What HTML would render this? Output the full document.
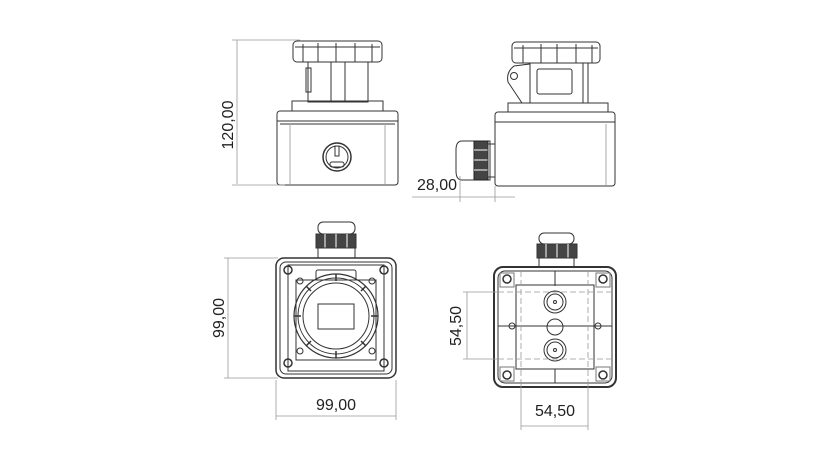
<!DOCTYPE html>
<html><head><meta charset="utf-8"><style>
html,body{margin:0;padding:0;background:#fff;}
svg{display:block}
text{font-family:"Liberation Sans",sans-serif;font-size:16px;fill:#222}
</style></head><body>
<svg width="825" height="464" viewBox="0 0 825 464" xmlns="http://www.w3.org/2000/svg">
<g fill="none" stroke="#333" stroke-width="1">
<!-- VIEW 1 front -->
<rect x="293" y="41" width="89" height="21" rx="4"/>
<line x1="295" y1="47" x2="380" y2="47"/>
<line x1="303" y1="44" x2="303" y2="62"/><line x1="318" y1="43" x2="318" y2="62"/><line x1="336" y1="43" x2="336" y2="62"/><line x1="355" y1="43" x2="355" y2="62"/><line x1="372" y1="44" x2="372" y2="62"/>
<rect x="308" y="62" width="60" height="40"/>
<line x1="331" y1="62" x2="331" y2="102"/><line x1="345" y1="62" x2="345" y2="102"/>
<rect x="306" y="68" width="5" height="24"/>
<rect x="292" y="101" width="91" height="10"/>
<rect x="277" y="111" width="121" height="74" rx="3"/>
<line x1="277" y1="121" x2="398" y2="121"/>
<line x1="280" y1="124" x2="395" y2="124"/>
<line x1="290" y1="124" x2="290" y2="184" stroke="#aaa"/>
<line x1="385" y1="124" x2="385" y2="184" stroke="#aaa"/>
<circle cx="337" cy="157" r="14" stroke-width="1.5"/>
<circle cx="337" cy="157" r="11"/>
<rect x="335" y="146" width="4" height="10"/>
<rect x="330" y="162" width="14" height="5" rx="2"/>
<g stroke="#999" stroke-width="0.8">
<line x1="237" y1="40" x2="237" y2="184"/>
<line x1="232" y1="40" x2="300" y2="40"/>
<line x1="232" y1="185" x2="285" y2="185"/>
</g>
<!-- VIEW 2 side -->
<rect x="512" y="42" width="88" height="21" rx="4"/>
<line x1="514" y1="48" x2="598" y2="48"/>
<line x1="523" y1="45" x2="523" y2="63"/><line x1="541" y1="44" x2="541" y2="63"/><line x1="557" y1="44" x2="557" y2="63"/><line x1="576" y1="44" x2="576" y2="63"/><line x1="592" y1="45" x2="592" y2="63"/>
<rect x="530" y="63" width="58" height="40"/>
<line x1="583" y1="63" x2="583" y2="103"/>
<rect x="537" y="69" width="35" height="25" rx="2"/>
<path d="M514 66 L530 64 L530 103 L522 103 L508 82 Q506 72 514 66Z"/>
<circle cx="514" cy="76" r="3.5"/>
<rect x="508" y="103" width="100" height="9"/>
<rect x="495" y="112" width="120" height="74" rx="3"/>
<line x1="495" y1="122" x2="615" y2="122"/>
<line x1="606" y1="124" x2="606" y2="185" stroke="#aaa"/>
<path d="M490 141 L462 141 Q456 141 456 150 L456 171 Q456 180 462 180 L490 180Z"/>
<rect x="474" y="141" width="14" height="39" fill="#444" stroke="#222"/>
<line x1="474" y1="150" x2="488" y2="150" stroke="#fff"/><line x1="474" y1="160" x2="488" y2="160" stroke="#fff"/><line x1="474" y1="170" x2="488" y2="170" stroke="#fff"/>
<rect x="488" y="144" width="7" height="33"/>
<g stroke="#999" stroke-width="0.8">
<line x1="412" y1="197" x2="515" y2="197"/>
<line x1="460" y1="176" x2="460" y2="202"/>
<line x1="495" y1="186" x2="495" y2="202"/>
</g>
<!-- VIEW 3 front face -->
<rect x="318" y="222" width="37" height="12" rx="5"/>
<rect x="316" y="234" width="40" height="14" fill="#444"/>
<line x1="325" y1="234" x2="325" y2="248" stroke="#fff"/><line x1="336" y1="234" x2="336" y2="248" stroke="#fff"/><line x1="347" y1="234" x2="347" y2="248" stroke="#fff"/>
<rect x="318" y="248" width="37" height="10"/>
<rect x="276" y="258" width="120" height="120" rx="8" stroke-width="1.5"/>
<rect x="280" y="262" width="112" height="112" rx="6"/>
<rect x="288" y="265" width="96" height="106"/>
<rect x="296" y="280" width="80" height="80"/>
<rect x="316" y="270" width="40" height="10" rx="2"/>
<circle cx="336" cy="316" r="42" stroke-width="1.2"/>
<circle cx="336" cy="316" r="38"/>
<circle cx="336" cy="316" r="33"/>
<g stroke-width="1.5">
<line x1="336" y1="274" x2="336" y2="281"/><line x1="336" y1="351" x2="336" y2="358"/>
<line x1="294" y1="316" x2="301" y2="316"/><line x1="371" y1="316" x2="378" y2="316"/>
<line x1="306" y1="286" x2="311" y2="291"/><line x1="366" y1="286" x2="361" y2="291"/>
<line x1="306" y1="346" x2="311" y2="341"/><line x1="366" y1="346" x2="361" y2="341"/>
</g>
<rect x="318" y="304" width="36" height="25"/>
<circle cx="288" cy="270" r="4" stroke-width="1.5"/><circle cx="384" cy="270" r="4" stroke-width="1.5"/>
<circle cx="288" cy="363" r="4" stroke-width="1.5"/><circle cx="384" cy="363" r="4" stroke-width="1.5"/>
<circle cx="300" cy="281" r="3"/><circle cx="372" cy="281" r="3"/><circle cx="300" cy="351" r="3"/><circle cx="372" cy="351" r="3"/>
<g stroke="#999" stroke-width="0.8">
<line x1="228" y1="258" x2="228" y2="378"/>
<line x1="224" y1="258" x2="278" y2="258"/>
<line x1="224" y1="378" x2="278" y2="378"/>
<line x1="276" y1="380" x2="276" y2="420"/>
<line x1="396" y1="380" x2="396" y2="420"/>
<line x1="276" y1="416" x2="396" y2="416"/>
</g>
<!-- VIEW 4 back -->
<rect x="539" y="233" width="35" height="11" rx="5"/>
<rect x="537" y="244" width="40" height="14" fill="#444"/>
<line x1="546" y1="244" x2="546" y2="258" stroke="#fff"/><line x1="557" y1="244" x2="557" y2="258" stroke="#fff"/><line x1="568" y1="244" x2="568" y2="258" stroke="#fff"/>
<rect x="539" y="258" width="35" height="9"/>
<rect x="494" y="267" width="122" height="120" rx="9" stroke-width="2"/>
<rect x="498" y="271" width="114" height="112" rx="7"/>
<path d="M500 273 h14 v14 h-14z M596 273 h14 v14 h-14z M500 367 h14 v14 h-14z M596 367 h14 v14 h-14z" stroke="#777"/>
<rect x="516" y="285" width="78" height="84"/>
<line x1="498" y1="326" x2="612" y2="326"/>
<line x1="555" y1="271" x2="555" y2="286"/><line x1="555" y1="369" x2="555" y2="383"/>
<circle cx="555" cy="302" r="11"/><circle cx="555" cy="302" r="8"/><circle cx="555" cy="302" r="1.5"/>
<circle cx="555" cy="327" r="8"/>
<circle cx="555" cy="350" r="11"/><circle cx="555" cy="350" r="8"/><circle cx="555" cy="350" r="1.5"/>
<circle cx="512" cy="326" r="3"/><circle cx="598" cy="326" r="3"/>
<circle cx="507" cy="279" r="4" stroke-width="1.5"/><circle cx="603" cy="279" r="4" stroke-width="1.5"/>
<circle cx="507" cy="375" r="4" stroke-width="1.5"/><circle cx="603" cy="375" r="4" stroke-width="1.5"/>
<g stroke="#999" stroke-width="0.8" stroke-dasharray="6,3">
<line x1="521" y1="271" x2="521" y2="383"/><line x1="588" y1="271" x2="588" y2="383"/>
<line x1="498" y1="292" x2="612" y2="292"/><line x1="498" y1="359" x2="612" y2="359"/>
</g>
<g stroke="#999" stroke-width="0.8">
<line x1="467" y1="292" x2="467" y2="359"/>
<line x1="463" y1="292" x2="498" y2="292"/>
<line x1="463" y1="359" x2="498" y2="359"/>
<line x1="521" y1="383" x2="521" y2="430"/>
<line x1="588" y1="383" x2="588" y2="430"/>
<line x1="521" y1="426" x2="588" y2="426"/>
</g>
</g>
<text transform="translate(233,125) rotate(-90)" text-anchor="middle">120,00</text>
<text x="417" y="190">28,00</text>
<text transform="translate(224,318) rotate(-90)" text-anchor="middle">99,00</text>
<text x="336" y="410" text-anchor="middle">99,00</text>
<text transform="translate(461,326) rotate(-90)" text-anchor="middle">54,50</text>
<text x="555" y="416" text-anchor="middle">54,50</text>
</svg>
</body></html>
